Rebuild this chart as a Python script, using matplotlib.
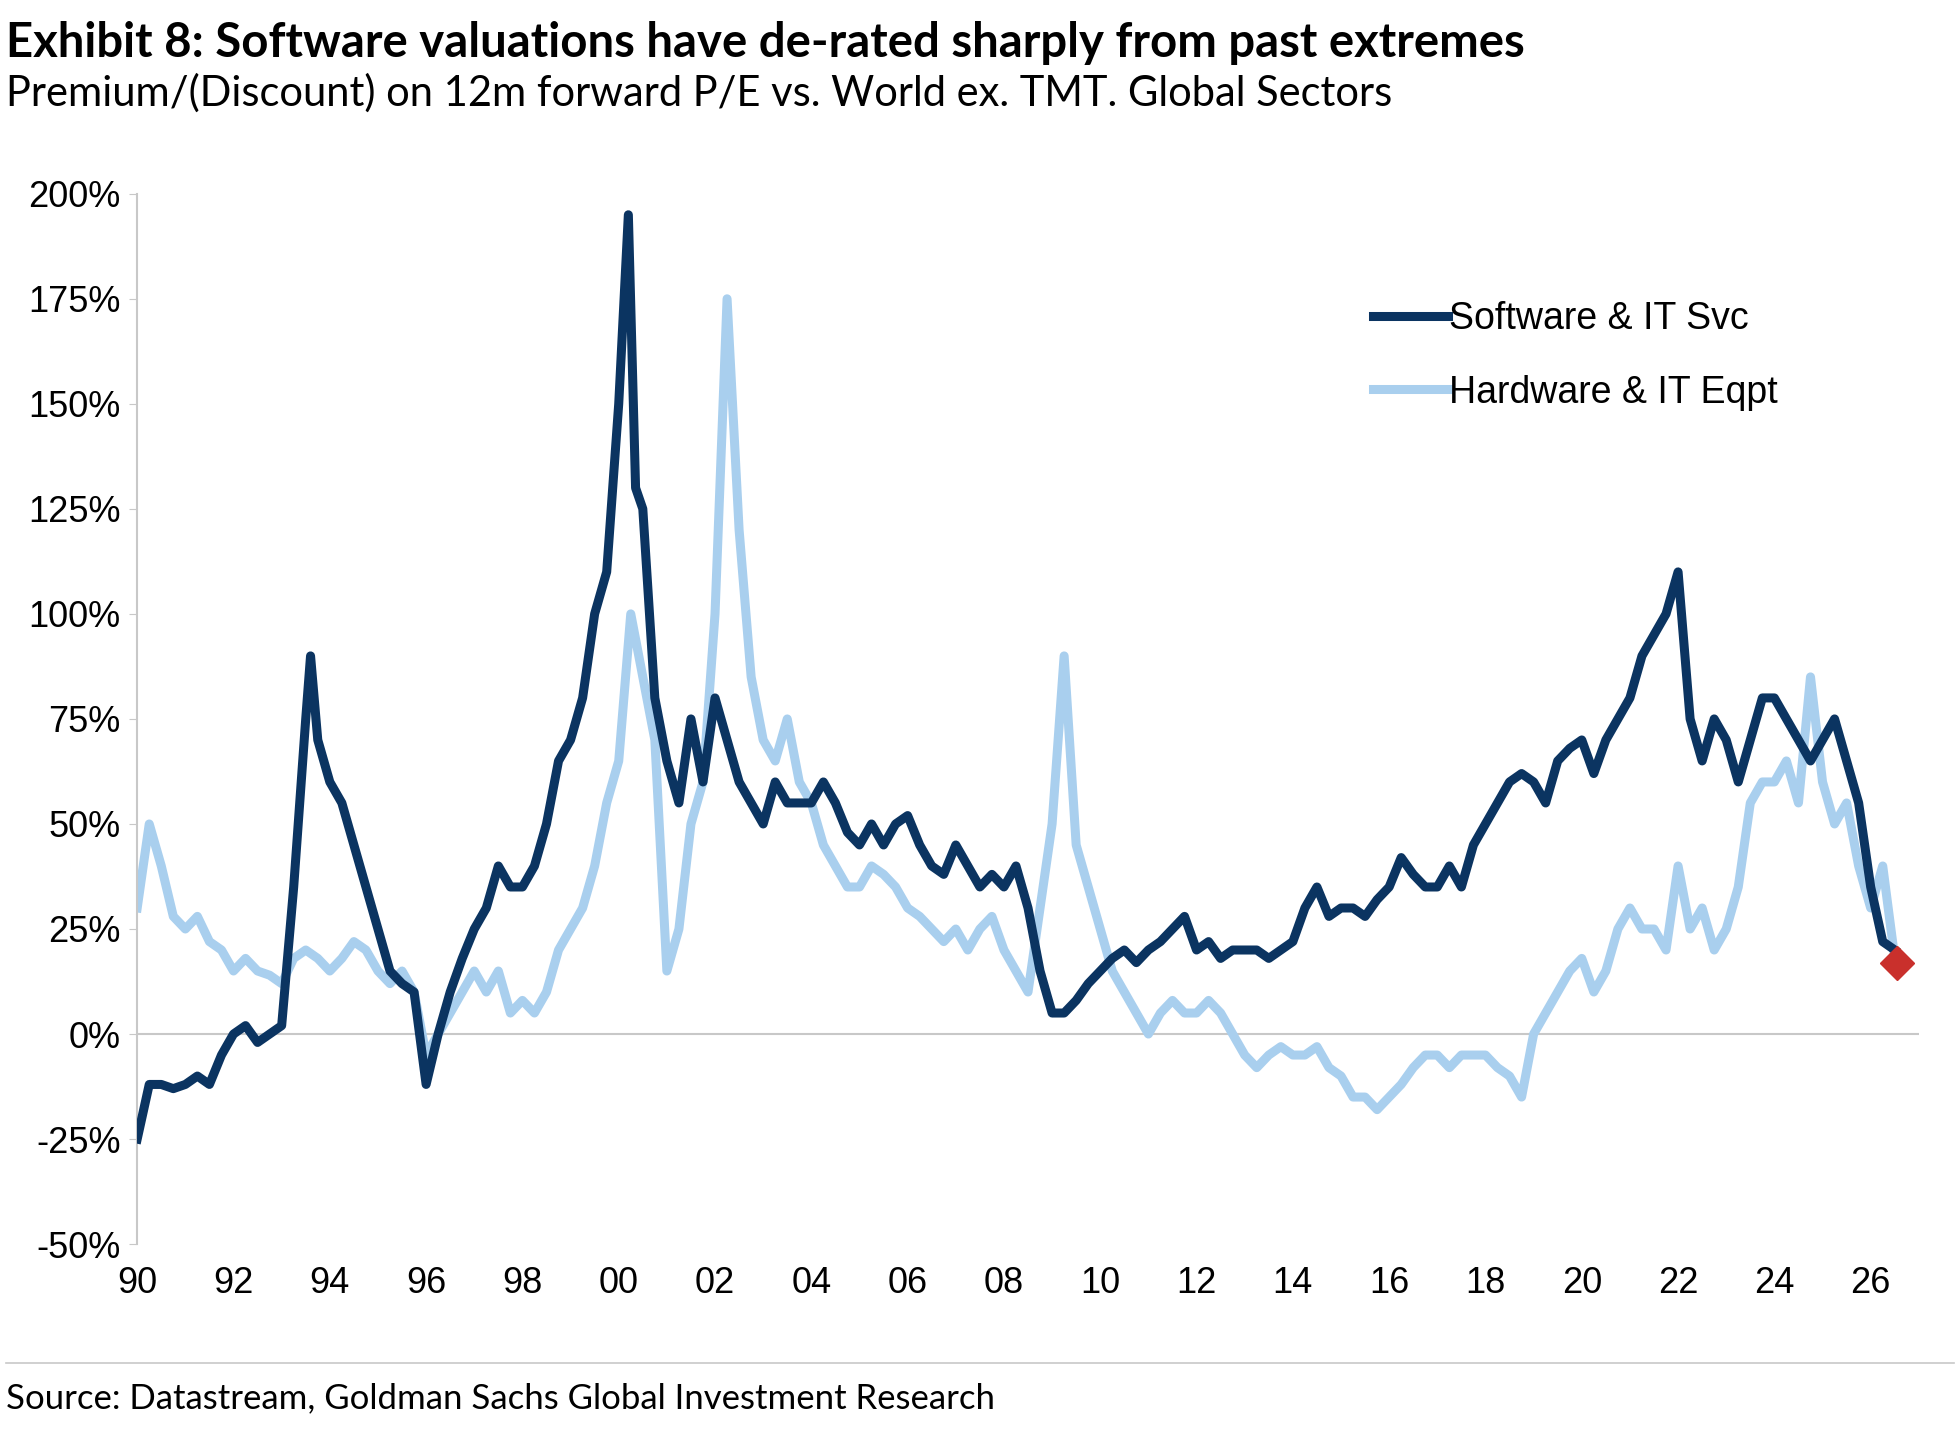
import matplotlib
matplotlib.use("Agg")
import matplotlib.pyplot as plt
import numpy as np

sw_years = [1990.0,1990.25,1990.5,1990.75,1991,1991.25,1991.5,1991.75,1992,1992.25,1992.5,1992.75,
 1993.0,1993.25,1993.5,1993.6,1993.75,1994,1994.25,1994.5,1994.75,1995,1995.25,1995.5,1995.75,
 1996,1996.25,1996.5,1996.75,1997,1997.25,1997.5,1997.75,1998,1998.25,1998.5,1998.75,
 1999,1999.25,1999.5,1999.75,2000.0,2000.2,2000.35,2000.5,2000.75,
 2001,2001.25,2001.5,2001.75,2002,2002.25,2002.5,2002.75,2003,2003.25,2003.5,2003.75,
 2004,2004.25,2004.5,2004.75,2005,2005.25,2005.5,2005.75,2006,2006.25,2006.5,2006.75,
 2007,2007.25,2007.5,2007.75,2008,2008.25,2008.5,2008.75,2009,2009.25,2009.5,2009.75,
 2010,2010.25,2010.5,2010.75,2011,2011.25,2011.5,2011.75,2012,2012.25,2012.5,2012.75,
 2013,2013.25,2013.5,2013.75,2014,2014.25,2014.5,2014.75,2015,2015.25,2015.5,2015.75,
 2016,2016.25,2016.5,2016.75,2017,2017.25,2017.5,2017.75,2018,2018.25,2018.5,2018.75,
 2019,2019.25,2019.5,2019.75,2020,2020.25,2020.5,2020.75,2021,2021.25,2021.5,2021.75,
 2022,2022.25,2022.5,2022.75,2023,2023.25,2023.5,2023.75,2024,2024.25,2024.5,2024.75,
 2025,2025.25,2025.5,2025.75,2026,2026.25,2026.5]
sw_vals = [-25,-12,-12,-13,-12,-10,-12,-5,0,2,-2,0,
 2,35,75,90,70,60,55,45,35,25,15,12,10,
 -12,0,10,18,25,30,40,35,35,40,50,65,
 70,80,100,110,150,195,130,125,80,
 65,55,75,60,80,70,60,55,50,60,55,55,
 55,60,55,48,45,50,45,50,52,45,40,38,
 45,40,35,38,35,40,30,15,5,5,8,12,
 15,18,20,17,20,22,25,28,20,22,18,20,
 20,20,18,20,22,30,35,28,30,30,28,32,
 35,42,38,35,35,40,35,45,50,55,60,62,
 60,55,65,68,70,62,70,75,80,90,95,100,
 110,75,65,75,70,60,70,80,80,75,70,65,
 70,75,65,55,35,22,20]

hw_years = [1990+0.25*i for i in range(147)]
hw_vals = [30,50,40,28,25,28,22,20,15,18,15,14,12,18,20,18,15,18,22,20,15,12,15,10,
 -5,0,5,10,15,10,15,5,8,5,10,20,25,30,40,55,65,100,85,70,15,25,50,60,
 100,175,120,85,70,65,75,60,55,45,40,35,35,40,38,35,30,28,25,22,25,20,25,28,
 20,15,10,30,50,90,45,35,25,15,10,5,0,5,8,5,5,8,5,0,-5,-8,-5,-3,
 -5,-5,-3,-8,-10,-15,-15,-18,-15,-12,-8,-5,-5,-8,-5,-5,-5,-8,-10,-15,
 0,5,10,15,18,10,15,25,30,25,25,20,40,25,30,20,25,35,55,60,60,65,55,85,
 60,50,55,40,30,40,18]

last_x, last_y = 2026.55, 17

xticks = list(range(1990, 2027, 2))
xlabels = [f"{y%100:02d}" for y in xticks]
yticks = list(range(-50, 201, 25))

fig = plt.figure(figsize=(19.6, 14.3), dpi=100)
ax = fig.add_axes([0.070, 0.130, 0.909, 0.7345])
ax.plot(hw_years, hw_vals, color="#a9cfee", lw=6.5, label="Hardware & IT Eqpt", zorder=2)
ax.plot(sw_years, sw_vals, color="#0b3461", lw=6.5, label="Software & IT Svc", zorder=3)
ax.plot([last_x], [last_y], marker="D", ms=17, color="#c9302c", zorder=4)
ax.axhline(0, color="#c8c8c8", lw=1.5, zorder=1)
ax.set_xlim(1990, 2027)
ax.set_ylim(-50, 200)
for s in ["top", "right", "bottom"]:
    ax.spines[s].set_visible(False)
ax.spines["left"].set_color("#c8c8c8")
ax.spines["left"].set_linewidth(1.5)
ax.set_yticks(yticks)
ax.set_yticklabels([f"{v}%" for v in yticks], family="Liberation Sans", fontsize=26)
ax.set_xticks(xticks)
ax.set_xticklabels(xlabels, family="Liberation Sans", fontsize=26)
ax.tick_params(axis="x", length=0, pad=16)
ax.tick_params(axis="y", length=6, color="#c8c8c8", pad=6)
h, l = ax.get_legend_handles_labels()
ax.legend(h[::-1], l[::-1], loc="upper right", bbox_to_anchor=(0.94, 0.93), frameon=False,
          prop={"family": "Liberation Sans", "size": 27}, handlelength=2.0, handletextpad=0.05,
          labelspacing=1.0)
fig.text(0.003, 0.970, "Exhibit 8: Software valuations have de-rated sharply from past extremes",
         family="Lato", weight="bold", fontsize=34, va="center")
fig.text(0.003, 0.935, "Premium/(Discount) on 12m forward P/E vs. World ex. TMT. Global Sectors",
         family="Lato", fontsize=30, va="center")
fig.add_artist(plt.Line2D([0.003, 0.997], [0.047, 0.047], color="#c8c8c8", lw=1.2))
fig.text(0.003, 0.022, "Source: Datastream, Goldman Sachs Global Investment Research",
         family="Lato", fontsize=25, va="center")
fig.savefig("out.png", dpi=100)
